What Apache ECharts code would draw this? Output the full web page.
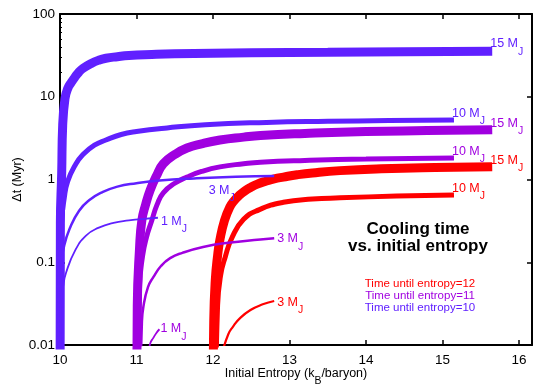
<!DOCTYPE html>
<html>
<head>
<meta charset="utf-8">
<script src="https://cdn.jsdelivr.net/npm/echarts@6/dist/echarts.min.js"></script>
<style>
  html, body { margin: 0; padding: 0; background: #fff; }
  #main { width: 540px; height: 391px; }
</style>
</head>
<body>
<div id="main"></div>
<script>
// tick labels
const xTicks = [10, 11, 12, 13, 14, 15, 16];
const yTicks = ['0.01', '0.1', '1', '10', '100'];

// time until entropy = 10 (blue)
const blue15 = [[10.0,0.001],[10.005,0.3],[10.022,1.2],[10.035,4.5],[10.065,9.5],[10.1,12.5],[10.15,15],[10.2,17.5],[10.25,20],[10.3,22],[10.4,25],[10.5,27.5],[10.6,29.2],[10.75,30.5],[10.9,31.5],[11.2,32.4],[11.5,33],[12.5,34],[13.5,34.5],[14.5,35],[15.65,35.5]];
const blue10 = [[10.0,0.001],[10.005,0.08],[10.02,0.3],[10.056,0.6],[10.1,0.95],[10.2,1.5],[10.3,2.0],[10.45,2.6],[10.6,3.0],[10.8,3.5],[11.0,3.8],[11.4,4.2],[11.9,4.6],[12.7,4.9],[13.5,5.05],[14.3,5.15],[15.15,5.25]];
const blue3 = [[10.0,0.001],[10.01,0.08],[10.056,0.16],[10.13,0.26],[10.25,0.42],[10.38,0.56],[10.55,0.7],[10.75,0.82],[11.0,0.9],[11.3,0.97],[11.75,1.03],[12.3,1.08],[12.8,1.1]];
const blue1 = [[10.0,0.001],[10.01,0.03],[10.04,0.05],[10.08,0.075],[10.2,0.14],[10.34,0.21],[10.5,0.26],[10.7,0.3],[10.9,0.32],[11.1,0.335],[11.28,0.345]];

// time until entropy = 11 (purple)
const purple15 = [[11.0,0.001],[11.01,0.03],[11.04,0.15],[11.07,0.32],[11.12,0.5],[11.18,0.75],[11.26,1.1],[11.35,1.55],[11.5,2.0],[11.66,2.4],[11.85,2.7],[12.09,3.0],[12.4,3.25],[12.62,3.4],[13.2,3.6],[14,3.8],[14.8,3.9],[15.65,4.0]];
const purple10 = [[11.02,0.001],[11.04,0.05],[11.08,0.12],[11.13,0.2],[11.2,0.32],[11.27,0.5],[11.35,0.69],[11.5,0.9],[11.66,1.07],[11.85,1.25],[12.09,1.42],[12.4,1.55],[12.62,1.62],[13.2,1.7],[14,1.77],[15.15,1.82]];
const purple3 = [[11.04,0.001],[11.07,0.018],[11.09,0.029],[11.15,0.05],[11.22,0.066],[11.32,0.09],[11.44,0.112],[11.6,0.13],[11.87,0.153],[12.2,0.172],[12.62,0.188],[12.8,0.195]];
const purple1 = [[11.16,0.008],[11.18,0.0105],[11.22,0.0122],[11.26,0.014],[11.3,0.0155]];

// time until entropy = 12 (red)
const red15 = [[12.0,0.001],[12.01,0.02],[12.03,0.061],[12.06,0.12],[12.09,0.186],[12.15,0.32],[12.22,0.466],[12.28,0.56],[12.35,0.65],[12.42,0.73],[12.49,0.8],[12.58,0.88],[12.7,0.96],[12.8,1.02],[12.92,1.07],[13.1,1.14],[13.3,1.2],[13.66,1.28],[14.2,1.35],[14.9,1.4],[15.65,1.43]];
const red10 = [[12.03,0.001],[12.06,0.03],[12.1,0.07],[12.16,0.116],[12.25,0.2],[12.4,0.33],[12.6,0.43],[12.92,0.53],[13.3,0.58],[13.66,0.6],[14.4,0.63],[15.15,0.65]];
const red3 = [[12.12,0.008],[12.2,0.0135],[12.26,0.0166],[12.35,0.021],[12.49,0.0265],[12.65,0.031],[12.8,0.034]];

const BLUE = '#6020ff', PURPLE = '#a000e0', RED = '#ff0000';
const FONT = 'Liberation Sans';

// "M" with a subscript "J"
const makeRich = (color) => ({
  m: { fontSize: 12.5, color: color, fontFamily: FONT, verticalAlign: 'top', lineHeight: 13 },
  j: { fontSize: 10.5, color: color, fontFamily: FONT, verticalAlign: 'bottom', lineHeight: 20 }
});

const makeSeries = (data, color, width, mass, offset, tagAt) => ({
  type: 'line',
  data: data,
  showSymbol: false,
  smooth: 0.5,
  clip: true,
  lineStyle: { color: color, width: width, cap: 'butt' },
  markPoint: {
    symbolSize: 0,
    silent: true,
    data: [{
      coord: tagAt || data[data.length - 1],
      label: {
        show: true,
        position: 'right',
        distance: 0,
        offset: offset,
        formatter: '{m|' + mass + ' M}{j|J}',
        rich: makeRich(color)
      }
    }]
  }
});

const series = [
  makeSeries(red15, RED, 9, 15, [-2, -3]),
  makeSeries(red10, RED, 5, 10, [-2, -3]),
  makeSeries(red3, RED, 2.2, 3, [3, 5]),
  makeSeries(purple15, PURPLE, 9, 15, [-2, -3]),
  makeSeries(purple10, PURPLE, 5, 10, [-2, -3]),
  makeSeries(purple3, PURPLE, 2.5, 3, [3, 4]),
  makeSeries(purple1, PURPLE, 1.8, 1, [1, 3]),
  makeSeries(blue15, BLUE, 9, 15, [-2, -4]),
  makeSeries(blue10, BLUE, 5, 10, [-2, -3]),
  makeSeries(blue3, BLUE, 2.5, 3, [-12, 17], [12.1, 1.07]),
  makeSeries(blue1, BLUE, 1.8, 1, [3, 7])
];

const axisLine = { show: true, onZero: false, lineStyle: { color: '#000', width: 2 } };
const axisTick = { show: true, inside: true, length: 5, lineStyle: { color: '#000', width: 1.5 } };

const chart = echarts.init(document.getElementById('main'), null, { renderer: 'canvas' });
chart.setOption({
  animation: false,
  textStyle: { fontFamily: FONT },
  grid: { left: 60, right: 8, top: 14, bottom: 46, containLabel: false, outerBoundsMode: 'none' },
  xAxis: [{
    type: 'value',
    min: 10, max: 16.17, interval: 1,
    axisLine: axisLine, axisTick: axisTick, splitLine: { show: false },
    axisLabel: {
      color: '#000', fontSize: 13.5, margin: 8, showMaxLabel: false,
      formatter: (v) => (xTicks.indexOf(v) >= 0 ? String(v) : '')
    },
    name: '{a|Initial Entropy (k}{b|B}{a|/baryon)}',
    nameLocation: 'middle', nameGap: 22, nameMoveOverlap: false,
    nameTextStyle: { rich: {
      a: { fontSize: 12.5, color: '#000', fontFamily: FONT, verticalAlign: 'top', lineHeight: 13 },
      b: { fontSize: 10.5, color: '#000', fontFamily: FONT, verticalAlign: 'bottom', lineHeight: 20 }
    } }
  }, {
    type: 'value', position: 'top',
    min: 10, max: 16.17, interval: 1,
    axisLine: axisLine, axisTick: axisTick, axisLabel: { show: false }, splitLine: { show: false }
  }],
  yAxis: [{
    type: 'log', logBase: 10,
    min: 0.01, max: 100,
    axisLine: axisLine, axisTick: axisTick, splitLine: { show: false },
    minorTick: { show: true, splitNumber: 9, length: 2, lineStyle: { color: '#000' } },
    axisLabel: {
      color: '#000', fontSize: 13.5, margin: 5,
      formatter: (v) => {
        const i = Math.round(Math.log10(v)) + 2;
        return yTicks[i] || '';
      }
    },
    name: 'Δt (Myr)', nameLocation: 'middle', nameGap: 36, nameMoveOverlap: false,
    nameTextStyle: { fontSize: 12.5, color: '#000' }
  }, {
    type: 'log', logBase: 10, position: 'right',
    min: 0.01, max: 100,
    axisLine: axisLine, axisTick: axisTick, axisLabel: { show: false }, splitLine: { show: false }
  }],
  graphic: [
    { type: 'text', x: 418, y: 229, style: { text: 'Cooling time', fill: '#000', font: 'bold 17px ' + FONT, textAlign: 'center', textVerticalAlign: 'middle' } },
    { type: 'text', x: 418, y: 246, style: { text: 'vs. initial entropy', fill: '#000', font: 'bold 17px ' + FONT, textAlign: 'center', textVerticalAlign: 'middle' } },
    { type: 'text', x: 420, y: 284, style: { text: 'Time until entropy=12', fill: RED, font: '11.5px ' + FONT, textAlign: 'center', textVerticalAlign: 'middle' } },
    { type: 'text', x: 420, y: 296, style: { text: 'Time until entropy=11', fill: PURPLE, font: '11.5px ' + FONT, textAlign: 'center', textVerticalAlign: 'middle' } },
    { type: 'text', x: 420, y: 308, style: { text: 'Time until entropy=10', fill: BLUE, font: '11.5px ' + FONT, textAlign: 'center', textVerticalAlign: 'middle' } }
  ],
  series: series
});
</script>
</body>
</html>
